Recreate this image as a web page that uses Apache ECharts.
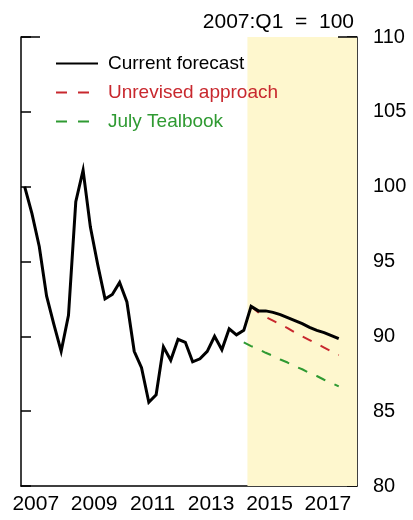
<!DOCTYPE html>
<html>
<head>
<meta charset="utf-8">
<script src="https://cdn.jsdelivr.net/npm/echarts@6/dist/echarts.min.js"></script>
<style>
  html, body { margin: 0; padding: 0; background: #fff; }
  #chart { width: 413px; height: 520px; }
</style>
</head>
<body>
<div id="chart"></div>
<script>
// quarters 2007:Q1 .. 2018:Q2
const years = [2007, 2008, 2009, 2010, 2011, 2012, 2013, 2014, 2015, 2016, 2017, 2018]
const quarters = []
years.forEach(y => {
  for (let q = 1; q <= 4; q++) {
    if (y === 2018 && q > 2) continue
    quarters.push(y + ':Q' + q)
  }
})
const yearLabels = ['2007', '2009', '2011', '2013', '2015', '2017']

// index, 2007:Q1 = 100
const currentForecast = [
  100.0, 98.2, 96.0, 92.7, 90.8, 89.0, 91.4, 99.0, 101.1, 97.3,
  94.8, 92.5, 92.8, 93.6, 92.3, 89.0, 87.9, 85.6, 86.1, 89.3,
  88.4, 89.8, 89.6, 88.3, 88.5, 89.0, 90.0, 89.1, 90.5, 90.1,
  90.4, 92.0, 91.7, 91.7, 91.6, 91.45, 91.25, 91.05, 90.85, 90.6,
  90.4, 90.25, 90.05, 89.85
]
// start at 2014:Q4
const unrevised = [92.0, 91.6, 91.3, 91.05, 90.8, 90.55, 90.25, 90.0, 89.75, 89.5, 89.25, 89.0, 88.75]
// start at 2014:Q3
const julyTealbook = [89.6, 89.35, 89.15, 88.9, 88.7, 88.45, 88.25, 88.0, 87.8, 87.55, 87.35, 87.1, 86.9, 86.65]

const shadeStart = 2014.75
const shadeEnd = 2018.5

function pad(arr, startIdx) {
  const out = quarters.map(() => null)
  arr.forEach((v, i) => { out[startIdx + i] = v })
  return out
}

const font = "'Liberation Sans', Arial, sans-serif"
const red = '#C8282E'
const green = '#2F9A32'

const chart = echarts.init(document.getElementById('chart'))
chart.setOption({
  animation: false,
  textStyle: { fontFamily: font },
  title: {
    text: '2007:Q1  =  100',
    right: 54,
    top: 7,
    textStyle: { fontSize: 21, fontWeight: 'normal', color: '#000', fontFamily: font }
  },
  legend: {
    orient: 'vertical',
    left: 55,
    top: 54,
    padding: 0,
    itemWidth: 42,
    itemHeight: 14,
    itemGap: 10,
    itemStyle: { opacity: 0, borderWidth: 0 },
    textStyle: { fontSize: 19, fontFamily: font, padding: [0, 0, 0, 5] },
    data: [
      { name: 'Current forecast', textStyle: { color: '#000' } },
      { name: 'Unrevised approach', textStyle: { color: red }, lineStyle: { type: [11, 11] } },
      { name: 'July Tealbook', textStyle: { color: green }, lineStyle: { type: [11, 11] } }
    ]
  },
  grid: { left: 21, right: 56, top: 37, bottom: 34 },
  xAxis: [
    {
      type: 'category',
      data: quarters,
      boundaryGap: true,
      axisLine: { lineStyle: { color: '#000', width: 1.5 } },
      axisTick: {
        inside: true,
        length: 10,
        lineStyle: { color: '#000', width: 1.5 },
        interval: (i) => i % 4 === 0 && i > 0
      },
      axisLabel: {
        color: '#000',
        fontSize: 21,
        margin: 8,
        interval: (i, v) => {
          const y = v.slice(0, 4)
          return v.endsWith('Q3') && yearLabels.includes(y)
        },
        formatter: (v) => '{a|' + v.slice(0, 4) + '}',
        rich: { a: { fontSize: 21, color: '#000', fontFamily: font, padding: [0, 7, 0, 0] } }
      },
      splitLine: { show: false }
    },
    {
      type: 'value',
      min: 2007,
      max: shadeEnd,
      show: false
    }
  ],
  yAxis: [
    {
      type: 'value',
      position: 'right',
      min: 80,
      max: 110,
      interval: 5,
      axisLine: { show: true, lineStyle: { color: '#000', width: 1.5 } },
      axisTick: { show: true, inside: true, length: 10, lineStyle: { color: '#000', width: 1.5 } },
      axisLabel: { color: '#000', fontSize: 20, margin: 16, fontFamily: font },
      splitLine: { show: false }
    },
    {
      type: 'value',
      position: 'left',
      min: 80,
      max: 110,
      interval: 5,
      axisLine: { show: true, lineStyle: { color: '#000', width: 1.5 } },
      axisTick: { show: true, inside: true, length: 10, lineStyle: { color: '#000', width: 1.5 } },
      axisLabel: { show: false },
      splitLine: { show: false }
    }
  ],
  series: [
    {
      name: 'shade',
      type: 'line',
      xAxisIndex: 1,
      yAxisIndex: 0,
      data: [],
      silent: true,
      markArea: {
        silent: true,
        itemStyle: { color: '#FEF7CE' },
        data: [[{ xAxis: shadeStart }, { xAxis: shadeEnd }]]
      }
    },
    {
      name: 'July Tealbook',
      type: 'line',
      data: pad(julyTealbook, 30),
      symbol: 'none',
      lineStyle: { color: green, width: 2, type: [10, 10] },
      itemStyle: { color: green },
      z: 3
    },
    {
      name: 'Unrevised approach',
      type: 'line',
      data: pad(unrevised, 31),
      symbol: 'none',
      lineStyle: { color: red, width: 2, type: [10, 10] },
      itemStyle: { color: red },
      z: 3
    },
    {
      name: 'Current forecast',
      type: 'line',
      data: pad(currentForecast, 0),
      symbol: 'none',
      lineStyle: { color: '#000', width: 3, join: 'miter' },
      itemStyle: { color: '#000' },
      z: 4
    }
  ]
})

// short top edge pieces at both corners, as in the original frame
const tl = chart.convertToPixel({ xAxisIndex: 1, yAxisIndex: 0 }, [2007, 110])
const tr = chart.convertToPixel({ xAxisIndex: 1, yAxisIndex: 0 }, [shadeEnd, 110])
const edge = { stroke: '#000', lineWidth: 1.5 }
chart.setOption({
  graphic: [
    { type: 'line', shape: { x1: tl[0], y1: tl[1], x2: tl[0] + 19, y2: tl[1] }, style: edge, z: 10 },
    { type: 'line', shape: { x1: tr[0] - 19, y1: tr[1], x2: tr[0], y2: tr[1] }, style: edge, z: 10 }
  ]
})
</script>
</body>
</html>
